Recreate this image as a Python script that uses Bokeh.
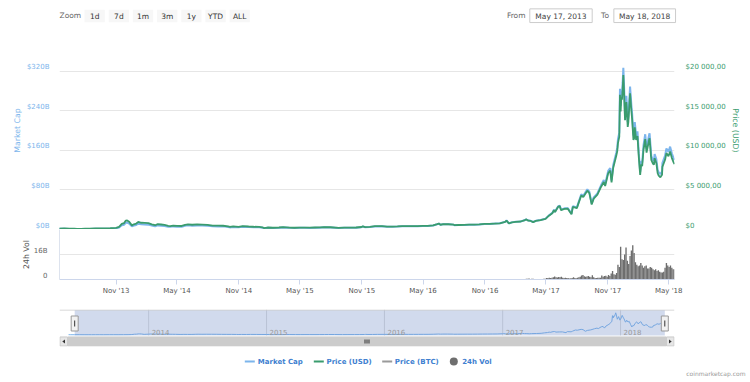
import numpy as np
import pandas as pd
from bokeh.plotting import figure
from bokeh.layouts import column
from bokeh.models import Range1d, LinearAxis, FixedTicker, CustomJSTickFormatter, ColumnDataSource
from bokeh.embed import file_html
from bokeh.resources import INLINE
from bokeh.core.properties import value

FONT = "DejaVu Sans"

# ---------------- data ----------------
price_dates = [
    "2013-04-28", "2013-05-05", "2013-05-17", "2013-05-31", "2013-06-15", "2013-06-30", "2013-07-08", "2013-07-20",
    "2013-08-01", "2013-08-15", "2013-09-01", "2013-09-15", "2013-10-01", "2013-10-15", "2013-11-01", "2013-11-10",
    "2013-11-18", "2013-11-25", "2013-11-30", "2013-12-04", "2013-12-10", "2013-12-18", "2013-12-24", "2013-12-31",
    "2014-01-06", "2014-01-15", "2014-01-25", "2014-02-05", "2014-02-15", "2014-02-25", "2014-03-05", "2014-03-15",
    "2014-03-25", "2014-04-05", "2014-04-11", "2014-04-20", "2014-05-01", "2014-05-15", "2014-05-25", "2014-06-03",
    "2014-06-15", "2014-06-30", "2014-07-15", "2014-07-31", "2014-08-15", "2014-08-31", "2014-09-15", "2014-09-30",
    "2014-10-05", "2014-10-15", "2014-10-31", "2014-11-12", "2014-11-30", "2014-12-15", "2014-12-31",
    "2015-01-10", "2015-01-14", "2015-01-25", "2015-02-10", "2015-02-28", "2015-03-12", "2015-03-31", "2015-04-15",
    "2015-04-30", "2015-05-15", "2015-05-31", "2015-06-15", "2015-06-30", "2015-07-12", "2015-07-31", "2015-08-24",
    "2015-09-10", "2015-09-30", "2015-10-15", "2015-10-31", "2015-11-04", "2015-11-11", "2015-11-25", "2015-12-10",
    "2015-12-31",
    "2016-01-15", "2016-01-31", "2016-02-15", "2016-02-29", "2016-03-15", "2016-03-31", "2016-04-15", "2016-04-30",
    "2016-05-15", "2016-05-31", "2016-06-12", "2016-06-17", "2016-06-22", "2016-06-30", "2016-07-15", "2016-07-31",
    "2016-08-02", "2016-08-15", "2016-08-31", "2016-09-15", "2016-09-30", "2016-10-15", "2016-10-31", "2016-11-15",
    "2016-11-30", "2016-12-15", "2016-12-31",
    "2017-01-04", "2017-01-11", "2017-01-20", "2017-01-31", "2017-02-15", "2017-02-28", "2017-03-03", "2017-03-10",
    "2017-03-17", "2017-03-24", "2017-04-01", "2017-04-15", "2017-04-30", "2017-05-10", "2017-05-20", "2017-05-25",
    "2017-05-28", "2017-06-06", "2017-06-11", "2017-06-15", "2017-06-25", "2017-07-05", "2017-07-16", "2017-07-20",
    "2017-08-01", "2017-08-05", "2017-08-14", "2017-08-20", "2017-09-01", "2017-09-07", "2017-09-14", "2017-09-20",
    "2017-10-01", "2017-10-12", "2017-10-20", "2017-10-24", "2017-11-02", "2017-11-08", "2017-11-12", "2017-11-17",
    "2017-11-26", "2017-11-29", "2017-12-01", "2017-12-05", "2017-12-07", "2017-12-09", "2017-12-11", "2017-12-13",
    "2017-12-15", "2017-12-17", "2017-12-19", "2017-12-22", "2017-12-26", "2017-12-30",
    "2018-01-01", "2018-01-06", "2018-01-10", "2018-01-12", "2018-01-16", "2018-01-18", "2018-01-20", "2018-01-24",
    "2018-01-28", "2018-02-01", "2018-02-05", "2018-02-08", "2018-02-11", "2018-02-15", "2018-02-20", "2018-02-24",
    "2018-03-04", "2018-03-05", "2018-03-10", "2018-03-15", "2018-03-18", "2018-03-20", "2018-03-25", "2018-03-29",
    "2018-04-01", "2018-04-06", "2018-04-11", "2018-04-12", "2018-04-20", "2018-04-24", "2018-04-30", "2018-05-05",
    "2018-05-10", "2018-05-15", "2018-05-18",
]
price_usd = [
    135, 115, 123, 129, 100, 97, 77, 90,
    105, 100, 140, 126, 127, 155, 205, 330,
    700, 810, 1130, 1150, 990, 520, 660, 755,
    950, 850, 830, 800, 650, 540, 670, 630,
    580, 450, 420, 500, 450, 445, 580, 660,
    600, 640, 620, 585, 500, 480, 475, 385,
    320, 395, 340, 420, 380, 350, 320,
    275, 178, 250, 220, 255, 295, 245, 220,
    235, 238, 230, 250, 262, 310, 285, 210,
    240, 236, 255, 315, 400, 310, 330, 415,
    430,
    375, 370, 400, 435, 415, 415, 430, 450,
    455, 530, 680, 750, 600, 670, 665, 625,
    545, 570, 575, 605, 610, 640, 700, 710,
    745, 780, 960,
    1130, 780, 895, 965, 1010, 1190, 1280, 1110,
    1080, 935, 1080, 1180, 1350, 1750, 2050, 2450,
    2200, 2850, 2950, 2450, 2600, 2620, 1930, 2850,
    2700, 3200, 4300, 4100, 4900, 4600, 3150, 3900,
    4400, 5400, 6000, 5500, 7100, 7450, 5950, 7800,
    9300, 9900, 10900, 11700, 17000, 14900, 16700, 16400,
    17700, 19497, 17500, 13800, 16100, 12950,
    13600, 17200, 14900, 14000, 11300, 11500, 12900, 11300,
    11800, 9100, 6900, 8200, 8000, 10100, 11400, 9700,
    11400, 11500, 8800, 8300, 8200, 9000, 8400, 7100,
    6800, 6600, 6900, 7900, 8800, 9650, 9240, 9850,
    9050, 8500, 8250,
]
market_cap_b = [
    1.50, 1.28, 1.37, 1.44, 1.13, 1.10, 0.87, 1.03,
    1.22, 1.16, 1.64, 1.48, 1.50, 1.83, 2.44, 3.95,
    8.40, 9.75, 13.65, 13.9, 12.0, 6.3, 8.0, 9.2,
    11.6, 10.4, 10.2, 9.8, 8.0, 6.6, 8.3, 7.8,
    7.2, 5.7, 5.3, 6.3, 5.7, 5.7, 7.45, 8.5,
    7.75, 8.3, 8.1, 7.65, 6.55, 6.3, 6.3, 5.1,
    4.25, 5.25, 4.55, 5.65, 5.15, 4.75, 4.35,
    3.77, 2.44, 3.43, 3.03, 3.53, 4.10, 3.43, 3.09,
    3.32, 3.38, 3.28, 3.58, 3.76, 4.47, 4.12, 3.05,
    3.50, 3.46, 3.75, 4.65, 5.90, 4.58, 4.90, 6.20,
    6.45,
    5.64, 5.57, 6.07, 6.62, 6.35, 6.37, 6.62, 6.95,
    7.05, 8.25, 10.6, 11.75, 9.4, 10.5, 10.5, 9.85,
    8.6, 9.0, 9.1, 9.6, 9.7, 10.2, 11.15, 11.35,
    11.9, 12.5, 15.4,
    18.15, 12.55, 14.4, 15.55, 16.3, 19.2, 20.7, 17.95,
    17.45, 15.15, 17.55, 19.2, 22.0, 28.6, 33.5, 40.0,
    36.0, 46.7, 48.4, 40.2, 42.7, 43.1, 31.8, 47.0,
    44.6, 52.9, 71.1, 67.9, 81.2, 76.3, 52.3, 64.8,
    73.1, 89.8, 99.8, 91.5, 118.3, 124.2, 99.2, 130.1,
    155.3, 165.4, 182.2, 195.7, 284.4, 249.4, 279.6, 274.7,
    296.6, 326.8, 293.4, 231.4, 270.1, 217.3,
    228.3, 288.9, 250.4, 235.3, 190.0, 193.4, 217.0, 190.1,
    198.6, 153.2, 116.2, 138.2, 134.9, 170.4, 192.4, 163.8,
    192.7, 194.4, 148.8, 140.4, 138.7, 152.3, 142.2, 120.2,
    115.2, 111.9, 117.0, 134.0, 149.3, 163.8, 156.9, 167.4,
    153.9, 144.6, 140.4,
]

# 24h volume (billions USD), one value per 4-day bin starting at vol_start
vol_start = "2017-01-01"
vol_bin_days = 4
volume_b = [
    0.25, 0.3, 0.2, 0.15, 0.13, 0.12, 0.1, 0.12,           # Jan 2017
    0.14, 0.15, 0.15, 0.14, 0.2, 0.22, 0.3,                # Feb
    0.5, 0.45, 0.6, 0.4, 0.5, 0.45, 0.35, 0.4,             # Mar
    0.4, 0.4, 0.35, 0.3, 0.4, 0.5, 0.55,                   # Apr
    0.9, 1.0, 1.1, 0.9, 1.1, 1.4, 1.9, 1.4,                # May
    1.3, 1.6, 1.5, 1.7, 1.1, 1.0, 1.2, 1.0,                # Jun
    0.9, 0.7, 0.8, 0.9, 1.5, 0.9, 0.8,                     # Jul
    1.2, 1.5, 1.7, 2.6, 2.9, 2.1, 1.7, 2.0,                # Aug
    2.3, 1.8, 1.4, 2.7, 1.5, 1.0, 0.9, 1.1,                # Sep
    1.1, 1.2, 2.5, 1.8, 2.2, 2.4, 1.8,                     # Oct
    2.9, 2.3, 3.9, 5.5, 3.3, 3.0, 4.2, 9.5,                # Nov
    8.0, 21.0, 13.0, 12.5, 16.0, 20.5, 12.0, 10.0,         # Dec
    15.0, 18.5, 22.0, 17.0, 11.0, 9.5, 8.5,                # Jan 2018
    9.0, 10.5, 9.0, 7.5, 8.5, 9.0, 7.0,                    # Feb
    7.0, 8.0, 7.5, 6.5, 6.0, 6.5, 5.5, 6.0,                # Mar
    5.0, 4.5, 4.5, 5.0, 7.5, 10.5, 9.0, 8.0,               # Apr
    9.0, 7.5, 6.5, 6.5,                                    # May
]

view_from = "2013-05-17"
view_to = "2018-05-18"
nav_from = "2013-03-31"
nav_to = "2018-06-17"

cap_ticks_b = [0, 80, 160, 240, 320]
cap_grid_b = [0, 80, 160, 240, 320, 400]
price_ticks = [0, 5000, 10000, 15000, 20000]
vol_ticks_b = [0, 16]
vol_grid_b = [0, 16, 32]
month_ticks = ["2013-11-01", "2014-05-01", "2014-11-01", "2015-05-01", "2015-11-01",
               "2016-05-01", "2016-11-01", "2017-05-01", "2017-11-01", "2018-05-01"]
nav_years = ["2014-01-01", "2015-01-01", "2016-01-01", "2017-01-01", "2018-01-01"]
range_buttons = ["1d", "7d", "1m", "3m", "1y", "YTD", "ALL"]
legend_names = ["Market Cap", "Price (USD)", "Price (BTC)", "24h Vol"]

# ---------------- styling ----------------
C_CAP = "#7cb5ec"
C_PRICE = "#3a9c6e"
C_BTC = "#9a9a9a"
C_VOL = "#6e6e6e"
C_GRID = "#e6e6e6"
C_LEG = "#4080d0"


def ms(d):
    return pd.Timestamp(d).value / 1e6


def base_fig(**kw):
    p = figure(output_backend="svg", toolbar_location=None, tools="", title=None, **kw)
    p.outline_line_color = None
    p.background_fill_color = "white"
    p.border_fill_color = "white"
    return p


src = ColumnDataSource(dict(date=pd.to_datetime(price_dates), price=price_usd, cap=market_cap_b))

# ---------------- header ----------------
head = base_fig(width=750, height=28, x_range=Range1d(0, 750), y_range=Range1d(28, 0),
                x_axis_location=None, y_axis_location=None,
                min_border_left=0, min_border_right=0, min_border_top=0, min_border_bottom=0)
head.frame_align = False
head.xgrid.grid_line_color = None
head.ygrid.grid_line_color = None
head.text(x=[59], y=[15], text=["Zoom"], text_font=value(FONT), text_font_size="7.5px",
          text_color="#666666", text_align="left", text_baseline="middle")
bx = [94.2 + 24.17 * i for i in range(len(range_buttons))]
head.rect(x=bx, y=[15.5] * len(bx), width=20.3, height=12.4, fill_color="#f7f7f7", line_color=None)
head.text(x=bx, y=[15.5] * len(bx), text=range_buttons, text_font=value(FONT), text_font_size="7.5px",
          text_color="#333333", text_align="center", text_baseline="middle")
t0, t1 = pd.Timestamp(view_from), pd.Timestamp(view_to)
lab_from = f"{t0:%b} {t0.day}, {t0.year}"
lab_to = f"{t1:%b} {t1.day}, {t1.year}"
head.text(x=[525, 608.5], y=[15, 15], text=["From", "To"], text_font=value(FONT), text_font_size="7.5px",
          text_color="#666666", text_align="right", text_baseline="middle")
head.rect(x=[560.5, 644.2], y=[15.2, 15.2], width=[62.4, 61.7], height=13.7,
          fill_color="white", line_color="#cccccc", line_width=1)
head.text(x=[560.5, 644.2], y=[15.5, 15.5], text=[lab_from, lab_to], text_font=value(FONT),
          text_font_size="7.5px", text_color="#444444", text_align="center", text_baseline="middle")

# ---------------- main chart ----------------
main = base_fig(width=750, height=201, x_range=Range1d(ms(view_from), ms(view_to)),
                y_range=Range1d(0, 400), x_axis_type="datetime", x_axis_location=None,
                y_axis_location="left",
                min_border_left=59, min_border_right=76, min_border_top=3, min_border_bottom=0)
main.extra_y_ranges = {"price": Range1d(0, 25000)}
main.xgrid.grid_line_color = None
main.ygrid.ticker = FixedTicker(ticks=cap_grid_b)
main.ygrid.grid_line_color = C_GRID

cap_shift = 4 * 400 / 198.0
yl = main.yaxis[0]
yl.ticker = FixedTicker(ticks=[v + cap_shift for v in cap_ticks_b])
yl.formatter = CustomJSTickFormatter(args=dict(shift=cap_shift),
                                     code="return '$' + Math.round(tick - shift) + 'B';")
yl.axis_label = "Market Cap"

price_shift = 4 * 25000 / 198.0
yr = LinearAxis(y_range_name="price", axis_label="Price (USD)")
yr.ticker = FixedTicker(ticks=[v + price_shift for v in price_ticks])
yr.formatter = CustomJSTickFormatter(args=dict(shift=price_shift), code=r"""
    const v = Math.round(tick - shift);
    if (v === 0) { return '$0'; }
    const s = String(v).replace(/\B(?=(\d{3})+(?!\d))/g, ' ');
    return '$' + s + ',00';
""")
main.add_layout(yr, "right")

for ax, col, st in ((yl, C_CAP, 10), (yr, C_PRICE, 11)):
    ax.axis_line_color = None
    ax.major_tick_line_color = None
    ax.minor_tick_line_color = None
    ax.major_tick_out = 0
    ax.major_tick_in = 0
    ax.minor_tick_out = 0
    ax.major_label_text_font = FONT
    ax.major_label_text_font_size = "7px"
    ax.major_label_text_color = col
    ax.major_label_standoff = st
    ax.axis_label_text_font = FONT
    ax.axis_label_text_font_size = "7.8px"
    ax.axis_label_text_font_style = "normal"
    ax.axis_label_text_color = col
    ax.axis_label_standoff = 2

main.line("date", "cap", source=src, line_color=C_CAP, line_width=2)
main.line("date", "price", source=src, y_range_name="price", line_color=C_PRICE, line_width=1.8)

# ---------------- volume panel ----------------
vol = base_fig(width=750, height=71, x_range=main.x_range, y_range=Range1d(0, 32),
               x_axis_type="datetime",
               min_border_left=59, min_border_right=76, min_border_top=0, min_border_bottom=21)
vol_dates = pd.date_range(vol_start, periods=len(volume_b), freq=f"{vol_bin_days}D")
vol.vbar(x=vol_dates + pd.Timedelta(days=vol_bin_days / 2), top=volume_b,
         width=vol_bin_days * 86400000, fill_color=C_VOL, line_color=None)
vol.xgrid.grid_line_color = None
vol.ygrid.ticker = FixedTicker(ticks=vol_grid_b)
vol.ygrid.grid_line_color = C_GRID

vshift = 4 * 32 / 50.0
va = vol.yaxis[0]
va.ticker = FixedTicker(ticks=[v + vshift for v in vol_ticks_b])
va.formatter = CustomJSTickFormatter(args=dict(shift=vshift),
                                     code="const v = Math.round(tick - shift); return v === 0 ? '0' : v + 'B';")
va.axis_label = "24h Vol"
va.axis_line_color = "#dde3ee"
va.major_tick_line_color = None
va.minor_tick_line_color = None
va.major_tick_out = 0
va.major_tick_in = 0
va.minor_tick_out = 0
va.major_label_text_font = FONT
va.major_label_text_font_size = "7px"
va.major_label_text_color = "#666666"
va.major_label_standoff = 12
va.axis_label_text_font = FONT
va.axis_label_text_font_size = "7.8px"
va.axis_label_text_font_style = "normal"
va.axis_label_text_color = "#555555"
va.axis_label_standoff = 0

xa = vol.xaxis[0]
xa.ticker = FixedTicker(ticks=[ms(d) for d in month_ticks])
xa.formatter = CustomJSTickFormatter(code="""
    const m = ['Jan','Feb','Mar','Apr','May','Jun','Jul','Aug','Sep','Oct','Nov','Dec'];
    const d = new Date(tick);
    return m[d.getUTCMonth()] + " '" + String(d.getUTCFullYear()).slice(2);
""")
xa.axis_line_color = "#ccd6eb"
xa.major_tick_line_color = "#ccd6eb"
xa.major_tick_out = 5
xa.major_tick_in = 0
xa.minor_tick_line_color = None
xa.major_label_text_font = FONT
xa.major_label_text_font_size = "7px"
xa.major_label_text_color = "#555555"
xa.major_label_standoff = 2

# ---------------- navigator + scrollbar ----------------
nav = base_fig(width=750, height=48, x_range=Range1d(ms(nav_from), ms(nav_to)), y_range=Range1d(346, 309),
               x_axis_location=None, y_axis_location=None,
               min_border_left=59, min_border_right=75, min_border_top=9, min_border_bottom=2)
nav.xgrid.grid_line_color = None
nav.ygrid.grid_line_color = None
nav.extra_y_ranges = {"nav": Range1d(-173.8, 375.8)}
nav.extra_x_ranges = {"px": Range1d(59, 675)}

yrs = pd.to_datetime(nav_years)
nav.segment(x0=yrs, x1=yrs, y0=[309] * len(yrs), y1=[335] * len(yrs), line_color="#dedede", line_width=1)
nav.line("date", "cap", source=src, y_range_name="nav", line_color=C_CAP, line_width=1)
nav.quad(left=[ms(view_from)], right=[ms(view_to)], bottom=[335], top=[309.5],
         fill_color="#6685c2", fill_alpha=0.3, line_color=None)
nav.text(x=yrs, y=[331] * len(yrs), text=[d[:4] for d in nav_years], x_offset=3,
         text_font=value(FONT), text_font_size="7px", text_color="#999999",
         text_align="left", text_baseline="middle")
nav.segment(x0=[59], x1=[675], y0=[309.5], y1=[309.5], x_range_name="px", line_color="#cccccc", line_width=1)
# handles at the selection ends
hx = [ms(view_from), ms(view_to)]
nav.rect(x=hx, y=[323, 323], width=7, width_units="screen", height=15,
         fill_color="#f2f2f2", line_color="#999999", line_width=1)
nav.scatter(x=hx, y=[323, 323], marker="dash", angle=np.pi / 2, size=6, line_color="#333333", line_width=1)
# scrollbar
nav.quad(left=[59], right=[675], bottom=[346], top=[336], x_range_name="px",
         fill_color="#f2f2f2", line_color=None)
nav.quad(left=[67.5], right=[666.5], bottom=[345.5], top=[336.5], x_range_name="px",
         fill_color="#cccccc", line_color="#cccccc")
nav.quad(left=[59.5, 667], right=[67, 674.5], bottom=[345.5, 345.5], top=[336.5, 336.5], x_range_name="px",
         fill_color="#e6e6e6", line_color="#cccccc")
nav.patches(xs=[[61.8, 64.5, 64.5], [672.2, 669.5, 669.5]], ys=[[341, 339, 343], [341, 339, 343]],
            x_range_name="px", fill_color="#333333", line_color=None)
nav.segment(x0=[365, 367, 369], x1=[365, 367, 369], y0=[339] * 3, y1=[343] * 3, x_range_name="px",
            line_color="#333333", line_width=1)

# ---------------- legend ----------------
leg = base_fig(width=750, height=34, x_range=Range1d(0, 750), y_range=Range1d(382, 348),
               x_axis_location=None, y_axis_location=None,
               min_border_left=0, min_border_right=0, min_border_top=0, min_border_bottom=0)
leg.frame_align = False
leg.xgrid.grid_line_color = None
leg.ygrid.grid_line_color = None
sym_x = [244.3, 313.3, 381.7]
leg.segment(x0=sym_x, x1=[x + 10 for x in sym_x], y0=[361] * 3, y1=[361] * 3,
            line_color=[C_CAP, C_PRICE, C_BTC], line_width=2)
leg.scatter(x=[453.3], y=[361], marker="circle", size=8, fill_color=C_VOL, line_color=None)
leg.text(x=[257.3, 326.0, 394.3, 461.7], y=[361.5] * 4, text=legend_names, text_font=value(FONT),
         text_font_size="7px", text_font_style="bold", text_color=C_LEG,
         text_align="left", text_baseline="middle")
leg.text(x=[745], y=[372.5], text=["coinmarketcap.com"], text_font=value(FONT), text_font_size="6px",
         text_color="#999999", text_align="right", text_baseline="middle")

layout = column(head, main, vol, nav, leg, spacing=0)
open("out.html", "w").write(file_html(layout, INLINE))
